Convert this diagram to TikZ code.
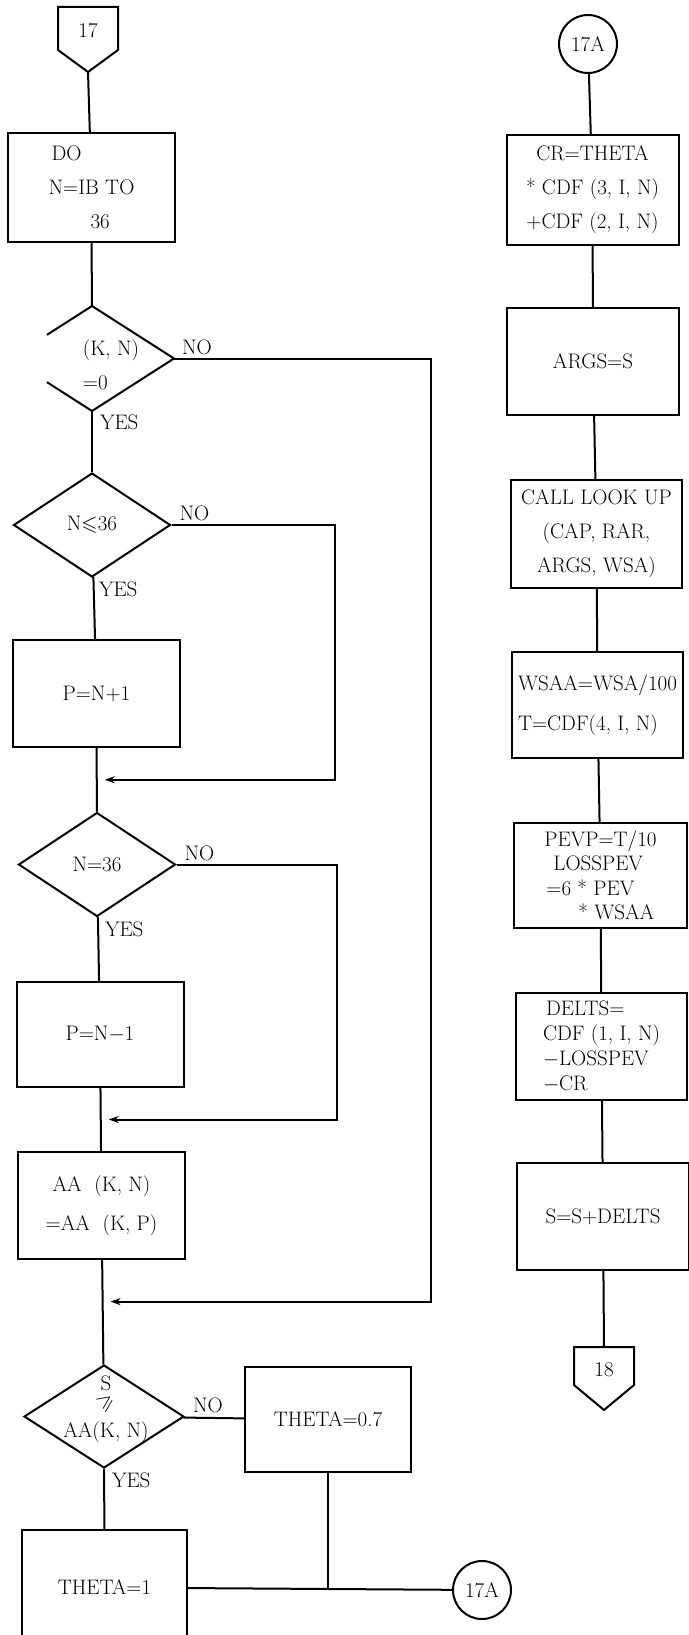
\documentclass[tikz,border=0pt]{standalone}
\usepackage{amssymb}
\usepackage{graphicx}
\usetikzlibrary{shapes.geometric,arrows.meta,calc}

\begin{document}
\begin{tikzpicture}[x=1pt,y=-1pt,line width=2pt,
  every node/.style={font=\fontsize{21}{34}\selectfont},
  box/.style={draw,rectangle,minimum width=167pt,minimum height=107pt,inner sep=0pt},
  rbox/.style={box,minimum width=172pt},
  test/.style={diamond,draw,minimum width=157pt,minimum height=104pt,inner sep=0pt},
  conn/.style={circle,draw,minimum size=58pt,inner sep=0pt},
  lbl/.style={inner sep=3pt},
  arr/.style={-{Stealth[length=10pt,width=7pt]},shorten >=8pt}]
\useasboundingbox (0,0) rectangle (688,1635);

% left column
\draw (58,7) -- (118,7) -- (118,50) -- (88,72) -- (58,50) -- cycle;
\node (off17) at (88,31) {17};
\coordinate (t17) at (88,72);
\node[box,minimum height=109pt,align=left] (doBox) at (91.5,187.5) {\hspace*{3pt}DO\\N=IB TO\\\hspace*{42pt}36};
\node[test,draw=none,minimum width=162pt,minimum height=103pt] (d1) at (92,358.5) {};
\draw ($(d1.north)!0.55!(d1.west)$) -- (d1.north) -- (d1.east) -- (d1.south) -- ($(d1.south)!0.55!(d1.west)$);
\node[align=left] (d1txt) at (111,365) {(K, N)\\=0};
\node[test] (d2) at (92,525) {N$\leqslant$36};
\node[box] (pPlus) at (96.5,693.5) {P=N+1};
\node[test] (d3) at (97,864.5) {N=36};
\node[box,minimum height=105pt] (pMinus) at (100,1034.5) {P=N$-$1};
\node[box,align=center,font=\fontsize{21}{39}\selectfont] (aaBox) at (101.5,1205.5) {AA\ \ (K, N)\\=AA\ \ (K, P)};
\node[test,minimum width=160pt,minimum height=103pt] (d4) at (104,1416.5) {};
\node[align=center,font=\fontsize{21}{22}\selectfont] (d4txt) at (106,1409) {S\\[-4pt]\smash{\rotatebox[origin=c]{35}{$\geqslant$}}\\[7pt]AA(K, N)};
\node[box,minimum width=166pt,minimum height=105pt] (th07) at (328,1419.5) {THETA=0.7};
\node[box,minimum width=165pt,minimum height=115pt] (th1) at (104.5,1587.5) {THETA=1};
\node[conn] (c17b) at (482,1590) {17A};

% right column
\node[conn] (c17a) at (588,44) {17A};
\node[rbox,minimum height=110pt,align=center] (crBox) at (592.5,190) {CR=THETA\\* CDF\ (3, I, N)\\+CDF\ (2, I, N)};
\node[rbox] (argsBox) at (593,361.5) {ARGS=S};
\node[rbox,minimum width=171pt,minimum height=108pt,align=center] (callBox) at (596.5,534) {CALL LOOK UP\\(CAP, RAR,\\ARGS, WSA)};
\node[rbox,minimum width=171pt,minimum height=106pt,align=left,font=\fontsize{21}{40}\selectfont] (wsaaBox) at (597.5,705) {WSAA=WSA/100\\T=CDF(4, I, N)};
\node[rbox,minimum width=173pt,minimum height=105pt,align=left,font=\fontsize{21}{24.5}\selectfont] (pevpBox) at (600.5,875.5) {PEVP=T/10\\\hspace*{9pt}LOSSPEV\\\hspace*{2pt}=6 * PEV\\\hspace*{34pt}* WSAA};
\node[rbox,minimum width=171pt,align=left,font=\fontsize{21}{25}\selectfont] (deltsBox) at (601.5,1046.5) {\hspace*{3pt}DELTS=\\CDF\ (1, I, N)\\$-$LOSSPEV\\$-$CR};
\node[rbox] (sBox) at (603,1216.5) {S=S+DELTS};
\draw (574,1347) -- (634,1347) -- (634,1385) -- (604,1410) -- (574,1385) -- cycle;
\node (off18) at (604,1370) {18};
\coordinate (t18) at (604,1347);

% connectors
\draw (t17) -- (doBox);
\draw (doBox) -- (d1);
\draw (d1) -- (d2);
\draw (d2) -- (pPlus);
\draw (pPlus) -- (d3);
\draw (d3) -- (pMinus);
\draw (pMinus) -- (aaBox);
\draw (aaBox) -- (d4);
\draw (d4) -- (th1);
\draw (d4) -- (th07);
\draw (th07.south) -- (th07.south |- th1.east);
\draw (th1) -- (c17b);
\draw (c17a) -- (crBox);
\draw (crBox) -- (argsBox);
\draw (argsBox) -- (callBox);
\draw (callBox) -- (wsaaBox);
\draw (wsaaBox) -- (pevpBox);
\draw (pevpBox) -- (deltsBox);
\draw (deltsBox) -- (sBox);
\draw (sBox) -- (t18);

% loops back
\coordinate (m1) at ($(pPlus.south)!0.5!(d3.north)$);
\coordinate (m2) at ($(pMinus.south)!0.5!(aaBox.north)$);
\coordinate (m3) at ($(aaBox.south)!0.4!(d4.north)$);
\draw[arr] (d2.east) -- ++(163,0) |- (m1);
\draw[arr] (d3.east) -- ++(160,0) |- (m2);
\draw[arr] (d1.east) -- ++(257,0) |- (m3);

% labels
\node[lbl,anchor=south west,xshift=4pt] at (d1.east) {NO};
\node[lbl,anchor=south west,xshift=4pt] at (d2.east) {NO};
\node[lbl,anchor=south west,xshift=4pt] at (d3.east) {NO};
\node[lbl,anchor=south west,xshift=4pt] at (d4.east) {NO};
\node[lbl,anchor=north west,xshift=4pt] at (d1.south) {YES};
\node[lbl,anchor=north west,xshift=3pt] at (d2.south) {YES};
\node[lbl,anchor=north west,xshift=4pt] at (d3.south) {YES};
\node[lbl,anchor=north west,xshift=4pt] at (d4.south) {YES};
\end{tikzpicture}
\end{document}
